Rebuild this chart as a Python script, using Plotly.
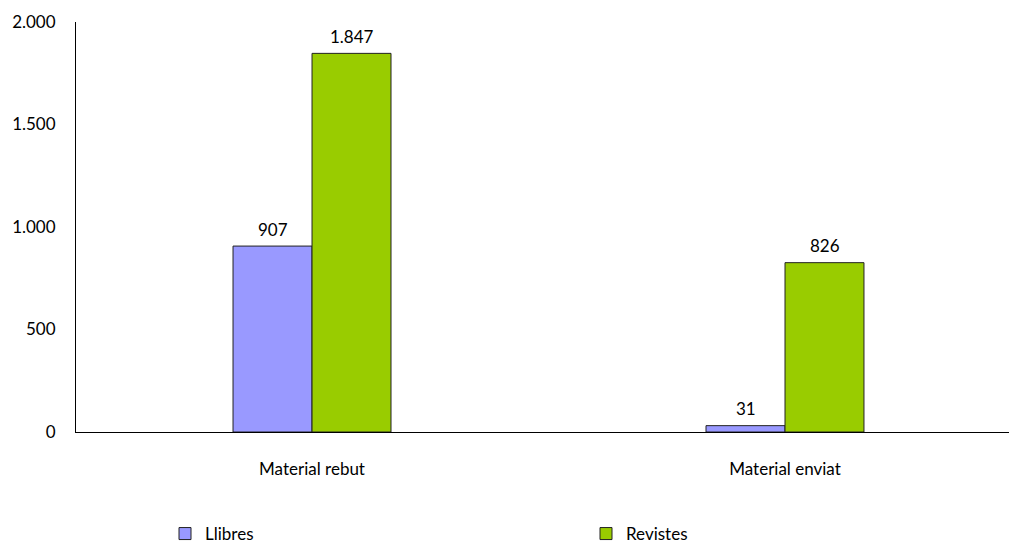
import plotly.graph_objects as go

categories = ["Material rebut", "Material enviat"]
llibres = [907, 31]
revistes = [1847, 826]

FONT = "Lato, 'Open Sans', sans-serif"
OUTLINE = dict(color="#222222", width=1)
BAR_PX = 79  # drawn width of one bar, used to place value labels over each bar


def fmt(v):
    return f"{v:,}".replace(",", ".")


fig = go.Figure(
    data=[
        go.Bar(
            x=categories,
            y=llibres,
            name="Llibres",
            marker=dict(color="#9999FF", line=OUTLINE),
        ),
        go.Bar(
            x=categories,
            y=revistes,
            name="Revistes",
            marker=dict(color="#99CC00", line=OUTLINE),
        ),
    ],
    layout=go.Layout(
        width=1009,
        height=543,
        margin=dict(l=76, r=0, t=22, b=111, autoexpand=False),
        paper_bgcolor="white",
        plot_bgcolor="white",
        separators=",.",
        font=dict(family=FONT, size=17, color="#000000"),
        barmode="group",
        bargap=0.666,
        bargroupgap=0,
        xaxis=dict(
            type="category",
            range=[-0.499, 1.4736],
            showline=True,
            linecolor="#000000",
            linewidth=1,
            ticks="outside",
            ticklen=22,
            tickcolor="rgba(0,0,0,0)",
            showgrid=False,
            automargin=False,
        ),
        yaxis=dict(
            range=[0, 2000],
            dtick=500,
            tickformat=",d",
            showline=True,
            linecolor="#000000",
            linewidth=1,
            ticks="outside",
            ticklen=16,
            tickcolor="rgba(0,0,0,0)",
            showgrid=False,
            zeroline=False,
            automargin=False,
        ),
        showlegend=True,
        legend=dict(
            orientation="h",
            x=(165 - 76) / 933,
            xanchor="left",
            y=-(534 - 432) / 410,
            yanchor="middle",
            entrywidth=376,
            entrywidthmode="pixels",
            font=dict(family=FONT, size=17),
        ),
    ),
)

for shift, values in [(-BAR_PX / 2, llibres), (BAR_PX / 2, revistes)]:
    for cat, v in zip(categories, values):
        fig.add_annotation(
            x=cat,
            y=v,
            text=fmt(v),
            showarrow=False,
            xshift=shift,
            yshift=17,
            yanchor="middle",
            font=dict(family=FONT, size=17),
        )

# drop the browser's default page margin so the figure sits at the window's corner
fig.write_html(
    "out.html",
    config={"displayModeBar": False},
    post_script="document.body.style.margin = '0'; document.body.style.overflow = 'hidden';",
)
